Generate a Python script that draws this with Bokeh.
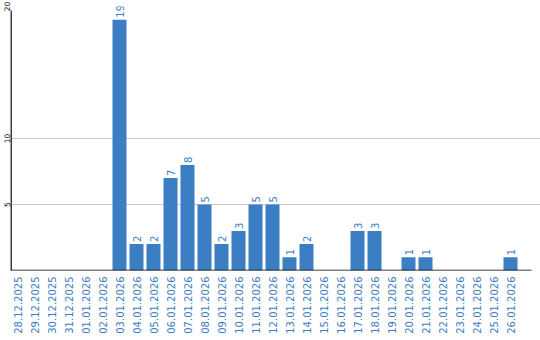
import math
from bokeh.plotting import figure
from bokeh.models import ColumnDataSource, FixedTicker
from bokeh.core.properties import value
from bokeh.embed import file_html
from bokeh.resources import INLINE

dates = ["28.12.2025", "29.12.2025", "30.12.2025", "31.12.2025", "01.01.2026",
         "02.01.2026", "03.01.2026", "04.01.2026", "05.01.2026", "06.01.2026",
         "07.01.2026", "08.01.2026", "09.01.2026", "10.01.2026", "11.01.2026",
         "12.01.2026", "13.01.2026", "14.01.2026", "15.01.2026", "16.01.2026",
         "17.01.2026", "18.01.2026", "19.01.2026", "20.01.2026", "21.01.2026",
         "22.01.2026", "23.01.2026", "24.01.2026", "25.01.2026", "26.01.2026"]
counts = [0, 0, 0, 0, 0, 0, 19, 2, 2, 7, 8, 5, 2, 3, 5, 5, 1, 2, 0, 0,
          3, 3, 0, 1, 1, 0, 0, 0, 0, 1]
y_ticks = [5, 10, 20]

BLUE = "#3b7ec3"
FONT = "DejaVu Sans"

idx = list(range(len(dates)))
src = ColumnDataSource(dict(x=idx, top=counts))
lab_x = [i for i, c in zip(idx, counts) if c > 0]
lab_y = [c for c in counts if c > 0]
lab_t = [str(c) for c in counts if c > 0]
lab = ColumnDataSource(dict(x=lab_x, y=lab_y, t=lab_t))

x0 = -7 / 17
x1 = 523 / 17
p = figure(width=540, height=340, output_backend="svg", toolbar_location=None,
           x_range=(x0, x1), y_range=(0, 20),
           min_border_left=10, min_border_right=0, min_border_top=6,
           min_border_bottom=70)
p.outline_line_color = None
p.background_fill_color = "white"
p.border_fill_color = "white"

p.vbar(x="x", top="top", bottom=0, width=14 / 17, source=src,
       fill_color=BLUE, line_color=None)
p.text(x="x", y="y", text="t", source=lab, angle=math.pi / 2,
       text_align="left", text_baseline="middle", y_offset=-2,
       text_color=BLUE, text_font=value(FONT), text_font_size="10px")

# axis lines
p.segment(x0=[x0], y0=[0], x1=[514 / 17], y1=[0], line_color="black", line_width=1.5)
p.segment(x0=[x0 + 0.03], y0=[0], x1=[x0 + 0.03], y1=[19.7], line_color="black", line_width=1.5)

p.xgrid.grid_line_color = None
p.ygrid.grid_line_color = "#c8c8c8"
p.ygrid.ticker = FixedTicker(ticks=y_ticks)

xa = p.xaxis[0]
xa.ticker = FixedTicker(ticks=idx)
xa.major_label_overrides = {i: d for i, d in zip(idx, dates)}
xa.major_label_orientation = math.pi / 2
xa.axis_line_color = None
xa.major_tick_line_color = None
xa.minor_tick_line_color = None
xa.major_tick_out = 0
xa.major_tick_in = 0
xa.major_label_standoff = 6
xa.major_label_text_color = BLUE
xa.major_label_text_font = FONT
xa.major_label_text_font_size = "10px"

ya = p.yaxis[0]
ya.ticker = FixedTicker(ticks=y_ticks)
ya.major_label_orientation = "parallel"
ya.axis_line_color = None
ya.major_tick_line_color = None
ya.minor_tick_line_color = None
ya.major_tick_out = 0
ya.major_tick_in = 0
ya.major_label_standoff = 1
ya.major_label_text_color = "black"
ya.major_label_text_font = FONT
ya.major_label_text_font_size = "7.5px"

open("out.html", "w").write(file_html(p, INLINE))
